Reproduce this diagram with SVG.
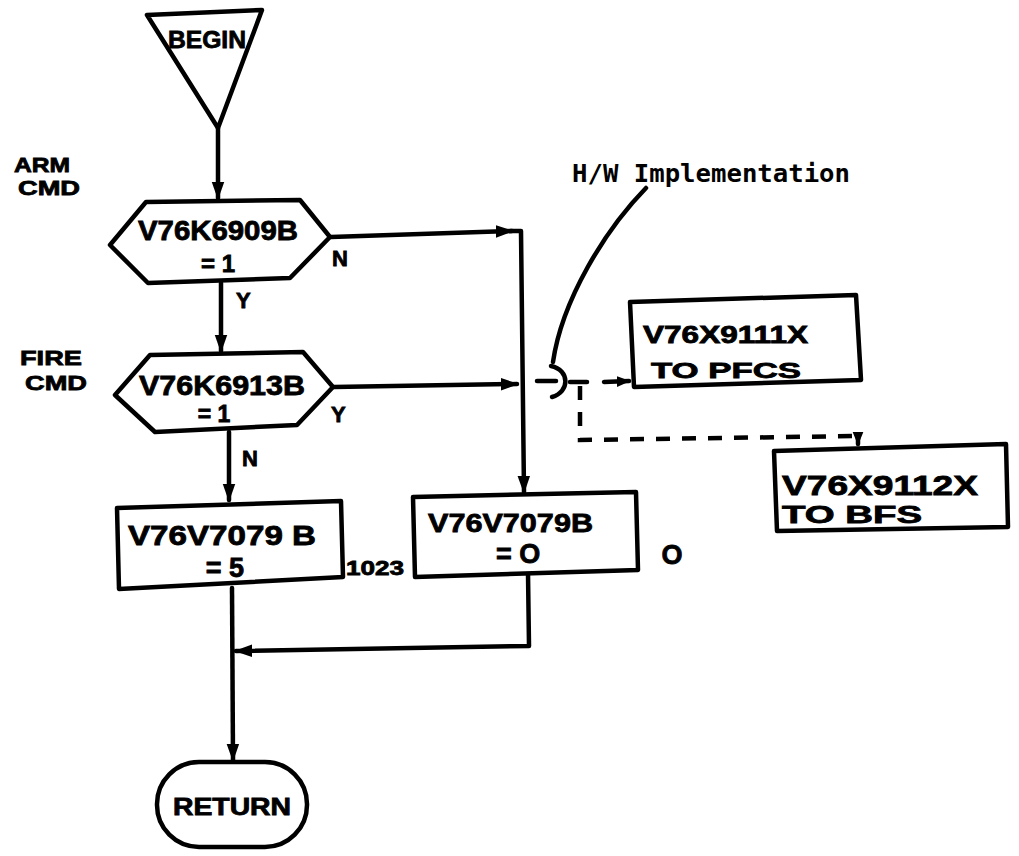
<svg xmlns="http://www.w3.org/2000/svg" width="1019" height="856" viewBox="0 0 1019 856">
<style>
.s{fill:#fff;stroke:#000;stroke-width:4.5;stroke-linejoin:round}
.c{fill:none;stroke:#000;stroke-width:4.5;stroke-linecap:round;stroke-linejoin:round}
.d{fill:none;stroke:#000;stroke-width:4.5;stroke-dasharray:14 12}
.t{font-family:"Liberation Sans",Arial,sans-serif;font-weight:bold;fill:#000;stroke:#000;stroke-width:0.8}
.m{font-family:"DejaVu Sans Mono","Liberation Mono",monospace;font-weight:bold;fill:#000}
</style>
<defs>
<marker id="a" viewBox="0 0 10 10" refX="9" refY="5" markerWidth="4" markerHeight="4" markerUnits="strokeWidth" orient="auto">
<path d="M0,1.5 L10,5 L0,8.5 Z" fill="#000"/>
</marker>
<marker id="as" viewBox="0 0 10 10" refX="9" refY="5" markerWidth="3" markerHeight="3" markerUnits="strokeWidth" orient="auto">
<path d="M0,1 L10,5 L0,9 Z" fill="#000"/>
</marker>
</defs>
<rect width="1019" height="856" fill="#fff"/>

<g id="connectors">
<path class="c" d="M218,128 L218,198" marker-end="url(#a)"/>
<path class="c" d="M331,237 L512,231" marker-end="url(#a)"/>
<path class="c" d="M510,231 L521,231 L524,492" marker-end="url(#a)"/>
<path class="c" d="M221,283 L221,351" marker-end="url(#a)"/>
<path class="c" d="M334,387 L517,384" marker-end="url(#a)"/>
<path class="c" d="M229,432 L229,500" marker-end="url(#a)"/>
<path class="c" d="M528,573 L529,646 L236,651" marker-end="url(#a)"/>
<path class="c" d="M232,588 L233,760" marker-end="url(#a)"/>
<path class="c" d="M646,188 C605,230 562,300 553,362"/>
<path class="c" d="M537,381 L556,381"/>
<path class="c" d="M551,366 C570,370 570,392 552,397"/>
<path class="c" d="M570,382 L587,382"/>
<path class="c" d="M604,382 L629,381" marker-end="url(#as)"/>
<path class="d" d="M580,386 L580,440 L858,436 L858,442"/>
<path class="c" d="M858,438 L858,444" marker-end="url(#as)"/>
</g>

<g id="begin">
<path class="s" d="M147,15 L262,10 L218,128 Z"/>
<text class="t" x="207" y="48" font-size="24" text-anchor="middle" textLength="78" lengthAdjust="spacingAndGlyphs">BEGIN</text>
</g>

<g id="arm-label">
<text class="t" x="14" y="172" font-size="20" textLength="56" lengthAdjust="spacingAndGlyphs">ARM</text>
<text class="t" x="18" y="195" font-size="20" textLength="62" lengthAdjust="spacingAndGlyphs">CMD</text>
</g>

<g id="hex1">
<path class="s" d="M110,245 L146,202 L300,200 L330,237 L290,278 L148,283 Z"/>
<text class="t" x="218" y="240" font-size="27" text-anchor="middle" textLength="160" lengthAdjust="spacingAndGlyphs">V76K6909B</text>
<text class="t" x="218" y="272" font-size="24" text-anchor="middle">= 1</text>
<text class="t" x="332" y="266" font-size="22">N</text>
<text class="t" x="236" y="308" font-size="22">Y</text>
</g>

<g id="fire-label">
<text class="t" x="20" y="365" font-size="21" textLength="62" lengthAdjust="spacingAndGlyphs">FIRE</text>
<text class="t" x="25" y="390" font-size="21" textLength="62" lengthAdjust="spacingAndGlyphs">CMD</text>
</g>

<g id="hex2">
<path class="s" d="M115,395 L150,355 L303,352 L333,387 L297,425 L155,432 Z"/>
<text class="t" x="222" y="395" font-size="27" text-anchor="middle" textLength="166" lengthAdjust="spacingAndGlyphs">V76K6913B</text>
<text class="t" x="214" y="422" font-size="23" text-anchor="middle">= 1</text>
<text class="t" x="331" y="422" font-size="22">Y</text>
<text class="t" x="242" y="466" font-size="22">N</text>
</g>

<g id="box1">
<path class="s" d="M117,508 L341,501 L343,577 L119,589 Z"/>
<text class="t" x="128" y="545" font-size="27" textLength="188" lengthAdjust="spacingAndGlyphs">V76V7079 B</text>
<text class="t" x="225" y="577" font-size="27" text-anchor="middle">= 5</text>
<text class="t" x="346" y="575" font-size="20" textLength="58" lengthAdjust="spacingAndGlyphs">1023</text>
</g>

<g id="box2">
<path class="s" d="M413,497 L636,492 L638,570 L415,577 Z"/>
<text class="t" x="428" y="532" font-size="26" textLength="165" lengthAdjust="spacingAndGlyphs">V76V7079B</text>
<text class="t" x="496" y="563" font-size="27">= O</text>
<text class="t" x="672" y="564" font-size="27" text-anchor="middle">O</text>
</g>

<g id="hw-label">
<text class="m" x="572" y="182" font-size="25" textLength="278" lengthAdjust="spacingAndGlyphs">H/W Implementation</text>
</g>

<g id="pfcs">
<path class="s" d="M630,302 L856,295 L861,380 L634,387 Z"/>
<text class="t" x="643" y="343" font-size="23" textLength="165" lengthAdjust="spacingAndGlyphs">V76X9111X</text>
<text class="t" x="651" y="378" font-size="22" textLength="150" lengthAdjust="spacingAndGlyphs">TO PFCS</text>
</g>

<g id="bfs">
<path class="s" d="M774,451 L1006,444 L1008,527 L777,531 Z"/>
<text class="t" x="782" y="495" font-size="27" textLength="196" lengthAdjust="spacingAndGlyphs">V76X9112X</text>
<text class="t" x="782" y="523" font-size="24" textLength="140" lengthAdjust="spacingAndGlyphs">TO BFS</text>
</g>

<g id="return">
<rect class="s" x="157" y="762" width="150" height="85" rx="42" ry="42"/>
<text class="t" x="232" y="815" font-size="23" text-anchor="middle" textLength="118" lengthAdjust="spacingAndGlyphs">RETURN</text>
</g>
</svg>
